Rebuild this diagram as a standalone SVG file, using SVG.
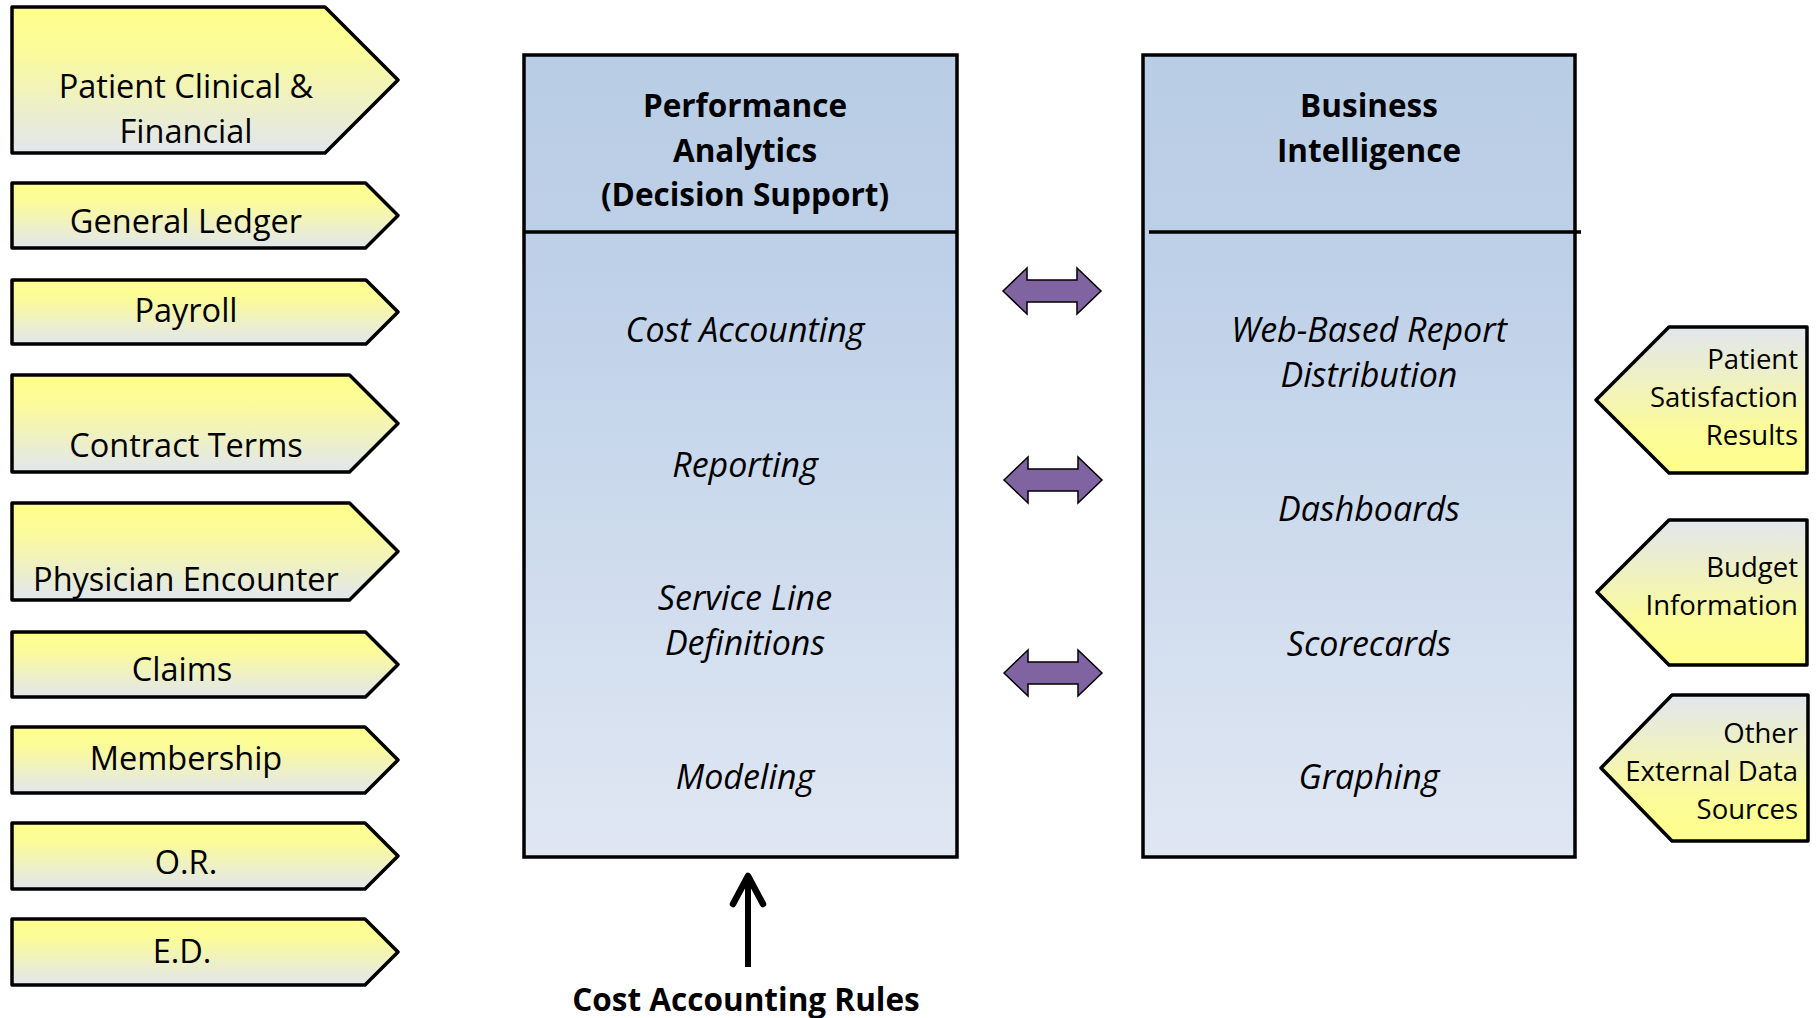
<svg xmlns="http://www.w3.org/2000/svg" width="1819" height="1018" viewBox="0 0 1819 1018">
<defs>
<linearGradient id="gY" x1="0" y1="0" x2="0" y2="1">
<stop offset="0" stop-color="#FFFF8C"/>
<stop offset="0.3" stop-color="#FBFB9A"/>
<stop offset="1" stop-color="#E1E6EE"/>
</linearGradient>
<linearGradient id="gYr" x1="0" y1="0" x2="0" y2="1">
<stop offset="0" stop-color="#E1E6EE"/>
<stop offset="0.7" stop-color="#FBFB9A"/>
<stop offset="1" stop-color="#FFFF8C"/>
</linearGradient>
<linearGradient id="gB" x1="0" y1="0" x2="0" y2="1">
<stop offset="0" stop-color="#B9CDE5"/>
<stop offset="0.25" stop-color="#BDD0E8"/>
<stop offset="1" stop-color="#E0E7F3"/>
</linearGradient>
</defs>
<style>
.pl{fill:url(#gY);stroke:#000;stroke-width:3.5;stroke-linejoin:round}
.pr{fill:url(#gYr);stroke:#000;stroke-width:3.5;stroke-linejoin:round}
.box{fill:url(#gB);stroke:#000;stroke-width:3.5}
.div{stroke:#000;stroke-width:3.5}
.t{font-family:"Open Sans",Lato,"Liberation Sans",sans-serif;font-size:32.5px;fill:#000;text-anchor:middle}
.tr{font-family:"Open Sans",Lato,"Liberation Sans",sans-serif;font-size:27.5px;fill:#000;text-anchor:end}
.h{font-family:"Open Sans",Lato,"Liberation Sans",sans-serif;font-size:31.5px;font-weight:bold;fill:#000;text-anchor:middle}
.i{font-family:"Open Sans",Lato,"Liberation Sans",sans-serif;font-size:34px;font-style:italic;fill:#000;text-anchor:middle}
.dbl{fill:#8064A2;stroke:#000;stroke-width:1.5;stroke-linejoin:miter}
</style>
<rect width="1819" height="1018" fill="#fff"/>

<g id="src-patient-clinical">
<path class="pl" d="M12,7 H325 L398,80 L325,153 H12 Z"/>
<text class="t" x="186" y="97.5">Patient Clinical &amp;</text>
<text class="t" x="186" y="142.5">Financial</text>
</g>
<g id="src-general-ledger">
<path class="pl" d="M12,183 H365.5 L398,215.5 L365.5,248 H12 Z"/>
<text class="t" x="186" y="232.5">General Ledger</text>
</g>
<g id="src-payroll">
<path class="pl" d="M12,280 H366 L398,312 L366,344 H12 Z"/>
<text class="t" x="186" y="321.5">Payroll</text>
</g>
<g id="src-contract-terms">
<path class="pl" d="M12,375 H349.5 L398,423.5 L349.5,472 H12 Z"/>
<text class="t" x="186" y="456.5">Contract Terms</text>
</g>
<g id="src-physician-encounter">
<path class="pl" d="M12,503 H349.5 L398,551.5 L349.5,600 H12 Z"/>
<text class="t" x="186" y="590.5">Physician Encounter</text>
</g>
<g id="src-claims">
<path class="pl" d="M12,632 H365.5 L398,664.5 L365.5,697 H12 Z"/>
<text class="t" x="182" y="680.5">Claims</text>
</g>
<g id="src-membership">
<path class="pl" d="M12,727 H365 L398,760 L365,793 H12 Z"/>
<text class="t" x="186" y="769.5">Membership</text>
</g>
<g id="src-or">
<path class="pl" d="M12,823 H365 L398,856 L365,889 H12 Z"/>
<text class="t" x="186" y="873.5">O.R.</text>
</g>
<g id="src-ed">
<path class="pl" d="M12,919 H365 L398,952 L365,985 H12 Z"/>
<text class="t" x="182" y="962.5">E.D.</text>
</g>

<g id="performance-analytics">
<rect class="box" x="524" y="55" width="433" height="802"/>
<line class="div" x1="524" y1="232" x2="957" y2="232"/>
<text class="h" x="745" y="116.5">Performance</text>
<text class="h" x="745" y="161.5">Analytics</text>
<text class="h" x="745" y="205.5">(Decision Support)</text>
<text class="i" x="745" y="342">Cost Accounting</text>
<text class="i" x="745" y="477">Reporting</text>
<text class="i" x="745" y="610">Service Line</text>
<text class="i" x="745" y="655">Definitions</text>
<text class="i" x="745" y="789">Modeling</text>
</g>

<g id="business-intelligence">
<rect class="box" x="1143" y="55" width="432" height="802"/>
<line class="div" x1="1149" y1="232" x2="1581" y2="232"/>
<text class="h" x="1369" y="116.5">Business</text>
<text class="h" x="1369" y="161.5">Intelligence</text>
<text class="i" x="1369" y="342">Web-Based Report</text>
<text class="i" x="1369" y="387">Distribution</text>
<text class="i" x="1369" y="521">Dashboards</text>
<text class="i" x="1369" y="656">Scorecards</text>
<text class="i" x="1369" y="789">Graphing</text>
</g>

<g id="ext-patient-satisfaction">
<path class="pr" d="M1807,327 H1669 L1596,400 L1669,473 H1807 Z"/>
<text class="tr" x="1798" y="369">Patient</text>
<text class="tr" x="1798" y="407">Satisfaction</text>
<text class="tr" x="1798" y="445">Results</text>
</g>
<g id="ext-budget">
<path class="pr" d="M1807,520 H1669 L1597,592 L1669,665 H1807 Z"/>
<text class="tr" x="1798" y="577">Budget</text>
<text class="tr" x="1798" y="615">Information</text>
</g>
<g id="ext-other">
<path class="pr" d="M1808,695 H1672 L1601,768 L1672,841 H1808 Z"/>
<text class="tr" x="1798" y="743">Other</text>
<text class="tr" x="1798" y="781">External Data</text>
<text class="tr" x="1798" y="819">Sources</text>
</g>

<g id="connectors">
<path class="dbl" d="M1003,291 L1027,268 V280 H1077 V268 L1101,291 L1077,314 V302 H1027 V314 Z"/>
<path class="dbl" d="M1004,480 L1028,457 V469 H1078 V457 L1102,480 L1078,503 V491 H1028 V503 Z"/>
<path class="dbl" d="M1004,673 L1028,650 V662 H1078 V650 L1102,673 L1078,696 V684 H1028 V696 Z"/>
<line x1="748" y1="967" x2="748" y2="878" stroke="#000" stroke-width="6"/>
<path d="M733,904 L748,876 L763,904" fill="none" stroke="#000" stroke-width="6.5" stroke-linecap="round" stroke-linejoin="round"/>
</g>
<text class="h" x="746" y="1011">Cost Accounting Rules</text>
</svg>
